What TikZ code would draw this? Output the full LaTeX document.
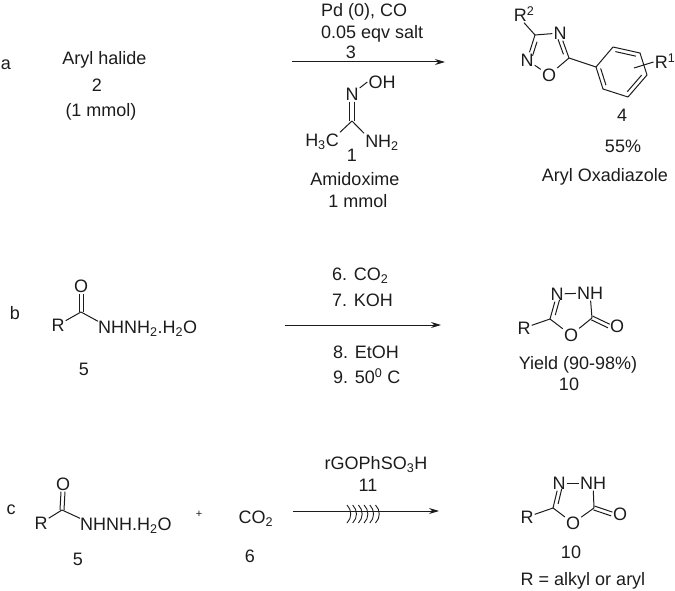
\documentclass[tikz,border=0pt]{standalone}
\usepackage{fontspec}
\setmainfont{Liberation Sans}
\usetikzlibrary{arrows.meta,calc}
\definecolor{ink}{HTML}{1C1C1C}
\tikzset{
  txt/.style={inner sep=0pt,text=ink,text height=13pt,text depth=0pt,font=\fontsize{18}{20}\selectfont},
  atom/.style={inner sep=1pt,text=ink,text height=13pt,text depth=0pt,font=\fontsize{18}{20}\selectfont},
  bond/.style={draw=ink,line width=1pt},
  rxn/.style={draw=ink,line width=1pt,-{Stealth[length=10pt,width=6pt]}},
  sono/.style={draw=ink,line width=0.9pt}
}
% second line of a double bond: nodes, fraction, signed offset
\newcommand{\dblbond}[4]{\draw[bond] ($(#1)!#3!(#2)!#4!90:(#2)$) -- ($(#2)!#3!(#1)!#4!-90:(#1)$);}
\newcommand{\subs}[1]{\textsubscript{#1}}
\newcommand{\sups}[1]{\textsuperscript{#1}}
\begin{document}
\begin{tikzpicture}[x=1pt,y=-1pt]
\useasboundingbox (0,0) rectangle (675,591);
% ---------- row a
\node[txt] (la) at (6,63) {a};
\node[txt] (ha) at (104.5,58) {Aryl halide};
\node[txt] (n2) at (97,85) {2};
\node[txt] (mm) at (101,110) {(1 mmol)};
\node[txt,anchor=west] (ra1) at (321,10) {Pd (0), CO};
\node[txt,anchor=west] (ra2) at (321,32) {0.05 eqv salt};
\node[txt] (ra3) at (351,52) {3};
\coordinate (a1) at (292,62); \coordinate (a2) at (445,62);
\draw[rxn] (a1) -- (a2);
% amidoxime
\node[atom] (amN) at (352,94) {N};
\node[atom] (amOH) at (382,82) {OH};
\coordinate (amC) at (352,121);
\node[atom] (amMe) at (322,140) {H\subs{3}C};
\node[atom] (amNH) at (382,141) {NH\subs{2}};
\draw[bond] (amN) -- (amOH.west);
\draw[bond] ([xshift=-2.2pt]amN.south) -- ([xshift=-2.2pt]amC);
\draw[bond] ([xshift=2.2pt]amN.south) -- ([xshift=2.2pt]amC);
\draw[bond] (amC) -- (amMe.north east);
\draw[bond] (amC) -- (amNH.north west);
\node[txt] (n1) at (352,155) {1};
\node[txt] (amName) at (355,179) {Amidoxime};
\node[txt] (amMol) at (358,201) {1 mmol};
% oxadiazole
\node[atom] (oR) at (524,15) {R\sups{2}};
\coordinate (oC3) at (535,35);
\node[atom] (oN4) at (560,33) {N};
\coordinate (oC5) at (569,58);
\node[atom] (oO) at (549,75) {O};
\node[atom] (oN2) at (527,60) {N};
\draw[bond] (oC3) -- (oR.south);
\draw[bond] (oC3) -- (oN4);
\draw[bond] (oN4) -- (oC5);
\dblbond{oC5}{oN4}{.2}{4pt}
\draw[bond] (oC5) -- (oO);
\draw[bond] (oO) -- (oN2);
\draw[bond] (oN2) -- (oC3);
\dblbond{oC3}{oN2}{.22}{4pt}
\coordinate (p1) at (596,67); \coordinate (p2) at (613,47); \coordinate (p3) at (640,53);
\coordinate (p4) at (647,75); \coordinate (p5) at (628,97); \coordinate (p6) at (603,89);
\draw[bond] (oC5) -- (p1);
\draw[bond,line join=round] (p1) -- (p2) -- (p3) -- (p4) -- (p5) -- (p6) -- cycle;
\dblbond{p2}{p3}{.12}{-4pt}
\dblbond{p4}{p5}{.12}{-4pt}
\dblbond{p6}{p1}{.12}{-4pt}
\coordinate (rIn) at (634,68);
\node[atom] (oR1) at (665,62) {R\sups{1}};
\draw[bond] (rIn) -- (oR1.west);
\node[txt] (n4) at (622,115) {4};
\node[txt] (pc) at (623,146) {55\%};
\node[txt] (aox) at (605,175) {Aryl Oxadiazole};
% ---------- row b
\node[txt] (lb) at (15,313) {b};
\node[atom] (bR) at (58,325) {R};
\coordinate (bC) at (81,312);
\node[atom] (bO) at (81,286) {O};
\node[atom,anchor=west,inner sep=0pt] (bN) at (98,327) {NHNH\subs{2}.H\subs{2}O};
\draw[bond] (bC) -- (bR);
\draw[bond] (bC) -- ([yshift=-1pt]bN.north west);
\draw[bond] ([xshift=-2pt]bO.south) -- ([xshift=-2pt]bC);
\draw[bond] ([xshift=2pt]bO.south) -- ([xshift=2pt]bC);
\node[txt] (n5) at (84,369) {5};
\node[txt,anchor=west] (rb1) at (332,274) {6. CO\subs{2}};
\node[txt,anchor=west] (rb2) at (332,300) {7. KOH};
\node[txt,anchor=west] (rb3) at (333,352) {8. EtOH};
\node[txt,anchor=west] (rb4) at (333,377) {9. 50\sups{0} C};
\coordinate (b1) at (285,325); \coordinate (b2) at (441,325);
\draw[rxn] (b1) -- (b2);
% product b
\node[atom] (pbN) at (557,294) {N};
\node[atom] (pbNH) at (590,293) {NH};
\coordinate (pbC5) at (550,319);
\node[atom] (pbO) at (571,335) {O};
\coordinate (pbC2) at (592,318);
\node[atom] (pbOx) at (617,326) {O};
\node[atom] (pbR) at (524,328) {R};
\draw[bond] (pbN) -- (pbNH);
\draw[bond] (pbNH) -- (pbC2);
\draw[bond] (pbC2) -- (pbO);
\draw[bond] (pbO) -- (pbC5);
\draw[bond] (pbC5) -- (pbN);
\dblbond{pbC5}{pbN}{.2}{-4pt}
\draw[bond] (pbC5) -- (pbR);
\draw[bond] ($(pbC2)!2pt!90:(pbOx)$) -- ($(pbOx.west)!2pt!-90:(pbC2)$);
\draw[bond] ($(pbC2)!2pt!-90:(pbOx)$) -- ($(pbOx.west)!2pt!90:(pbC2)$);
\node[txt] (yld) at (578,363) {Yield (90-98\%)};
\node[txt] (n10) at (569,384) {10};
% ---------- row c
\node[txt] (lc) at (11,508) {c};
\node[atom] (cR) at (41,523) {R};
\coordinate (cC) at (62,510);
\node[atom] (cO) at (63,484) {O};
\node[atom,anchor=west,inner sep=0pt] (cN) at (80,524) {NHNH.H\subs{2}O};
\draw[bond] (cC) -- (cR);
\draw[bond] (cC) -- ([yshift=-1pt]cN.north west);
\draw[bond] ([xshift=-2pt]cO.south) -- ([xshift=-2pt]cC);
\draw[bond] ([xshift=2pt]cO.south) -- ([xshift=2pt]cC);
\node[txt] (n5c) at (78,559) {5};
\node[txt,font=\fontsize{11}{12}\selectfont,text height=8pt] (plus) at (199,513) {+};
\node[txt] (co2) at (256,517) {CO\subs{2}};
\node[txt] (n6) at (250,556) {6};
\node[txt] (rc1) at (376,463) {rGOPhSO\subs{3}H};
\node[txt] (rc2) at (368,485) {11};
\coordinate (c1) at (293,511); \coordinate (c2) at (439,511);
\draw[rxn] (c1) -- (c2);
\foreach \k in {0,1,2,3,4,5}{
  \coordinate (sA\k) at ({347+5.7*\k},505);
  \coordinate (sB\k) at ({347+5.7*\k},523);
  \coordinate (sC\k) at ({352+5.7*\k},510);
  \coordinate (sD\k) at ({352+5.7*\k},518);
  \draw[sono] (sA\k) .. controls (sC\k) and (sD\k) .. (sB\k);
}
% product c
\node[atom] (pcN) at (559,483) {N};
\node[atom] (pcNH) at (593,483) {NH};
\coordinate (pcC5) at (553,508);
\node[atom] (pcO) at (573,523) {O};
\coordinate (pcC2) at (594,508);
\node[atom] (pcOx) at (620,514) {O};
\node[atom] (pcR) at (527,517) {R};
\draw[bond] (pcN) -- (pcNH);
\draw[bond] (pcNH) -- (pcC2);
\draw[bond] (pcC2) -- (pcO);
\draw[bond] (pcO) -- (pcC5);
\draw[bond] (pcC5) -- (pcN);
\dblbond{pcC5}{pcN}{.2}{-4pt}
\draw[bond] (pcC5) -- (pcR);
\draw[bond] ($(pcC2)!2pt!90:(pcOx)$) -- ($(pcOx.west)!2pt!-90:(pcC2)$);
\draw[bond] ($(pcC2)!2pt!-90:(pcOx)$) -- ($(pcOx.west)!2pt!90:(pcC2)$);
\node[txt] (n10c) at (571,552) {10};
\node[txt] (alk) at (583,579) {R = alkyl or aryl};
\end{tikzpicture}
\end{document}
